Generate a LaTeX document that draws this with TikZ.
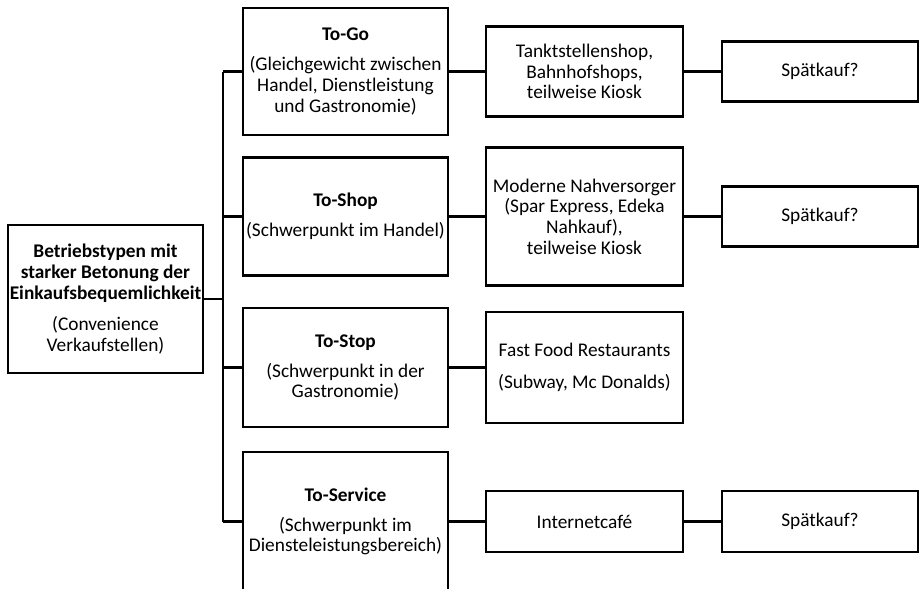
\documentclass[tikz,border=0pt]{standalone}
\usepackage{fontspec}
\setmainfont{Carlito}
\usepackage{tikz}

\begin{document}
\begin{tikzpicture}[x=0.75pt,y=-0.75pt,
    box/.style={draw,line width=2pt,align=center,inner sep=0pt,
      font=\fontsize{14.5}{15.5}\selectfont},
    boxsize/.style 2 args={minimum width=#1*0.75pt,minimum height=#2*0.75pt},
    link/.style={line width=2pt}]
    \useasboundingbox (0,0) rectangle (921,589);
    % root
    \node[box,boxsize={195}{148}] (root) at (105.5,299)
      {\textbf{Betriebstypen mit}\\\textbf{starker Betonung der}\\\textbf{Einkaufsbequemlichkeit}\\[8pt]
       (Convenience\\Verkaufstellen)};
    % Betriebstypen
    \node[box,boxsize={205}{127}] (togo) at (345.5,71.5)
      {\textbf{To-Go}\\[7pt](Gleichgewicht zwischen\\Handel, Dienstleistung\\und Gastronomie)};
    \node[box,boxsize={205}{118}] (toshop) at (345.5,216.5)
      {\textbf{To-Shop}\\[7pt](Schwerpunkt im Handel)};
    \node[box,boxsize={205}{119}] (tostop) at (345.5,367.5)
      {\textbf{To-Stop}\\[7pt](Schwerpunkt in der\\Gastronomie)};
    \node[box,boxsize={205}{139}] (toservice) at (345.5,521.5)
      {\textbf{To-Service}\\[7pt](Schwerpunkt im\\Diensteleistungsbereich)};
    % Beispiele
    \node[box,boxsize={197}{90}] (tank) at (584.5,71.5)
      {Tanktstellenshop,\\Bahnhofshops,\\teilweise Kiosk};
    \node[box,boxsize={197}{138}] (nahv) at (584.5,216.5)
      {Moderne Nahversorger\\(Spar Express, Edeka\\Nahkauf),\\teilweise Kiosk};
    \node[box,boxsize={197}{111}] (fastfood) at (584.5,367.5)
      {Fast Food Restaurants\\[8pt](Subway, Mc Donalds)};
    \node[box,boxsize={197}{61}] (inetcafe) at (584.5,521.5)
      {Internetcafé};
    % Spaetkauf
    \node[box,boxsize={196}{60}] (spaet1) at (820,71.5) {Spätkauf?};
    \node[box,boxsize={196}{60}] (spaet2) at (820,216.5) {Spätkauf?};
    \node[box,boxsize={196}{61}] (spaet3) at (820,521.5) {Spätkauf?};
    % connectors
    \coordinate (spine) at (223,0);
    \draw[link] (togo.west -| spine) -- (toservice.west -| spine);
    \draw[link] (root.east) -- (root.east -| spine);
    \foreach \n in {togo,toshop,tostop,toservice}
      \draw[link] (\n.west -| spine) -- (\n.west);
    \draw[link] (togo.east) -- (tank.west);
    \draw[link] (toshop.east) -- (nahv.west);
    \draw[link] (tostop.east) -- (fastfood.west);
    \draw[link] (toservice.east) -- (inetcafe.west);
    \draw[link] (tank.east) -- (spaet1.west);
    \draw[link] (nahv.east) -- (spaet2.west);
    \draw[link] (inetcafe.east) -- (spaet3.west);
  \end{tikzpicture}
\end{document}
